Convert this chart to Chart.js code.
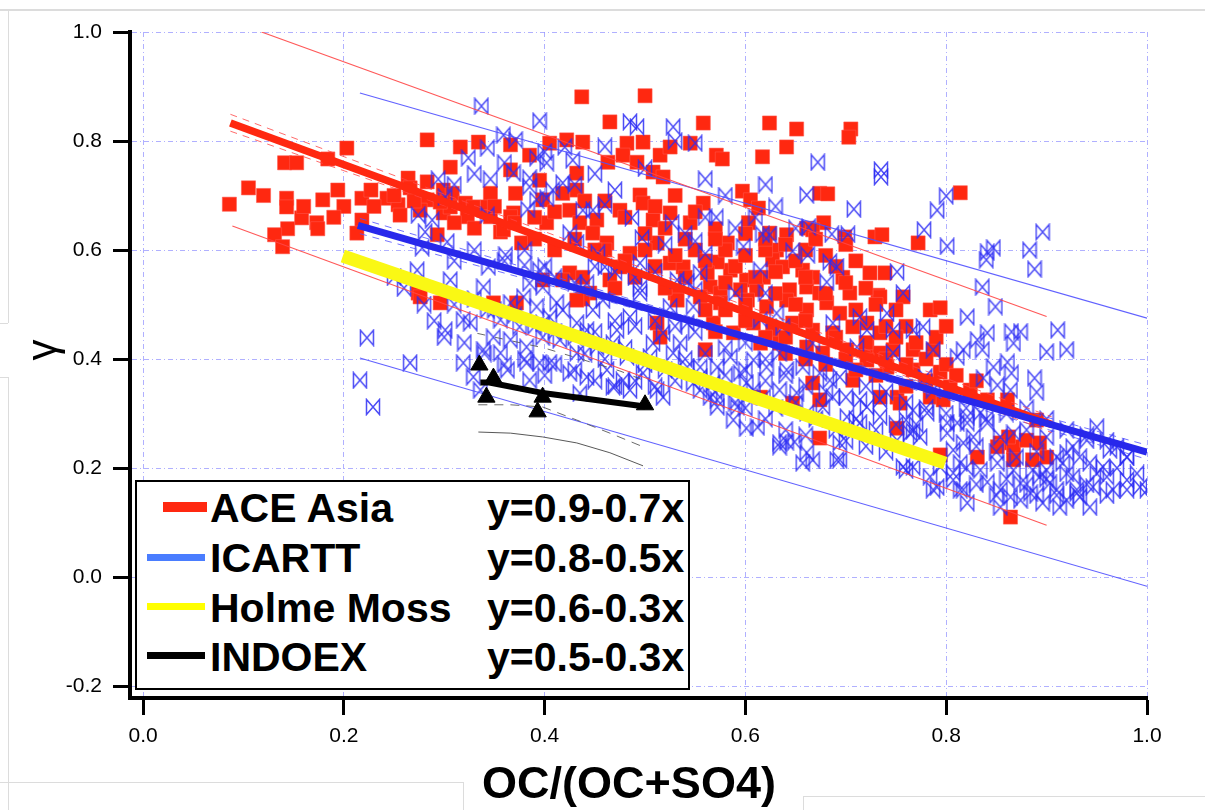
<!DOCTYPE html>
<html>
<head>
<meta charset="utf-8">
<script src="https://cdn.jsdelivr.net/npm/chart.js@4.4.1/dist/chart.umd.min.js"></script>
<style>
  body { margin: 0; background: #fff; }
  #wrap { position: relative; width: 1205px; height: 810px; overflow: hidden; font-family: "Liberation Sans", Arial, sans-serif; }
  #chart { position: absolute; left: 0; top: 0; }
  .frame { position: absolute; border-color: #dcdcdc; border-style: solid; border-width: 0; }
  .legend { position: absolute; left: 135px; top: 480px; width: 555px; height: 210px; box-sizing: border-box; border: 2px solid #000; background: #fff; }
  .lg { position: absolute; font-weight: bold; font-size: 41px; line-height: 41px; color: #000; white-space: nowrap; }
  .sw { position: absolute; }
  .ytitle { position: absolute; left: 20px; top: 328px; width: 44px; height: 44px; font-size: 42px; line-height: 44px; text-align: center; transform: rotate(-90deg); color: #000; }
  .xtitle { position: absolute; left: 329px; top: 760px; width: 600px; text-align: center; font-weight: bold; font-size: 45px; line-height: 45px; color: #000; }
</style>
</head>
<body>
<div id="wrap">
  <canvas id="chart" width="1205" height="810"></canvas>

  <!-- page artefacts around the figure -->
  <div class="frame" style="left:0;top:9px;width:1205px;height:0;border-top-width:2px;"></div>
  <div class="frame" style="left:8px;top:11px;width:0;height:312px;border-left-width:1px;"></div>
  <div class="frame" style="left:0;top:323px;width:8px;height:0;border-top-width:1px;"></div>
  <div class="frame" style="left:0;top:377px;width:8px;height:0;border-top-width:1px;"></div>
  <div class="frame" style="left:8px;top:377px;width:0;height:433px;border-left-width:1px;"></div>
  <div class="frame" style="left:0;top:782px;width:463px;height:40px;border-top-width:1px;border-right-width:1px;"></div>
  <div class="frame" style="left:803px;top:796px;width:420px;height:40px;border-top-width:1px;border-left-width:1px;"></div>

  <div class="legend"></div>
  <div class="sw" style="left:163px;top:502px;width:44px;height:10px;background:rgb(255,40,16);"></div>
  <div class="sw" style="left:147px;top:554px;width:58px;height:7px;background:rgb(74,125,255);"></div>
  <div class="sw" style="left:147px;top:603px;width:58px;height:7px;background:rgb(255,255,0);"></div>
  <div class="sw" style="left:147px;top:652px;width:58px;height:7px;background:#000;"></div>
  <div class="lg" style="left:210px;top:488px;">ACE Asia</div>
  <div class="lg" style="left:210px;top:538px;">ICARTT</div>
  <div class="lg" style="left:210px;top:588px;">Holme Moss</div>
  <div class="lg" style="left:210px;top:637px;">INDOEX</div>
  <div class="lg" style="left:487px;top:488px;">y=0.9-0.7x</div>
  <div class="lg" style="left:487px;top:538px;">y=0.8-0.5x</div>
  <div class="lg" style="left:487px;top:588px;">y=0.6-0.3x</div>
  <div class="lg" style="left:487px;top:637px;">y=0.5-0.3x</div>

  <div class="ytitle">γ</div>
  <div class="xtitle">OC/(OC+SO4)</div>
</div>

<script>
const xTickValues = [0.0, 0.2, 0.4, 0.6, 0.8, 1.0];
const yTickValues = [-0.2, 0.0, 0.2, 0.4, 0.6, 0.8, 1.0];

// ACE Asia measurements (red squares), [OC/(OC+SO4), gamma]
const aceAsiaPoints = [
  [0.086,0.684],[0.105,0.714],[0.141,0.760],[0.153,0.760],[0.143,0.695],[0.143,0.679],[0.158,0.659],[0.144,0.639],
  [0.131,0.628],[0.139,0.606],[0.173,0.650],[0.174,0.639],[0.179,0.692],[0.194,0.710],[0.184,0.767],[0.203,0.787],
  [0.218,0.655],[0.213,0.631],[0.218,0.695],[0.227,0.710],[0.243,0.695],[0.254,0.683],[0.256,0.664],[0.264,0.732],
  [0.266,0.714],[0.283,0.802],[0.283,0.725],[0.306,0.752],[0.316,0.789],[0.334,0.798],[0.299,0.710],[0.308,0.704],
  [0.283,0.692],[0.299,0.668],[0.293,0.628],[0.321,0.686],[0.329,0.679],[0.346,0.704],[0.343,0.679],[0.366,0.793],
  [0.366,0.747],[0.371,0.704],[0.369,0.668],[0.356,0.633],[0.377,0.613],[0.385,0.774],[0.395,0.728],[0.398,0.692],
  [0.402,0.650],[0.405,0.796],[0.422,0.802],[0.438,0.798],[0.437,0.881],[0.465,0.835],[0.500,0.883],[0.482,0.796],
  [0.498,0.798],[0.478,0.774],[0.463,0.761],[0.492,0.761],[0.515,0.774],[0.525,0.789],[0.508,0.743],[0.518,0.734],
  [0.432,0.741],[0.432,0.710],[0.418,0.704],[0.425,0.673],[0.435,0.650],[0.452,0.655],[0.448,0.631],[0.462,0.613],
  [0.475,0.673],[0.495,0.701],[0.498,0.686],[0.508,0.655],[0.525,0.668],[0.512,0.613],[0.485,0.594],[0.475,0.569],
  [0.465,0.545],[0.525,0.576],[0.425,0.558],[0.438,0.550],[0.418,0.545],[0.398,0.545],[0.359,0.637],[0.366,0.661],
  [0.346,0.661],[0.323,0.661],[0.306,0.679],[0.296,0.688],[0.276,0.673],[0.274,0.521],[0.445,0.521],[0.438,0.510],
  [0.530,0.521],
  [0.558,0.833],[0.624,0.833],[0.651,0.822],[0.705,0.822],[0.703,0.807],[0.641,0.789],[0.545,0.796],[0.571,0.774],
  [0.577,0.767],[0.617,0.771],[0.597,0.708],[0.605,0.692],[0.613,0.677],[0.558,0.686],[0.545,0.650],[0.603,0.650],
  [0.570,0.639],[0.582,0.613],[0.674,0.704],[0.682,0.703],[0.678,0.650],[0.661,0.640],[0.667,0.637],[0.641,0.628],
  [0.624,0.631],[0.699,0.624],[0.729,0.624],[0.736,0.628],[0.772,0.613],[0.814,0.705],[0.724,0.558],[0.739,0.558],
  [0.697,0.550],[0.704,0.521],[0.732,0.517],[0.631,0.600],[0.627,0.582],[0.637,0.569],[0.657,0.563],[0.667,0.550],
  [0.618,0.550],[0.601,0.545],[0.585,0.563],[0.572,0.578],[0.562,0.558],[0.538,0.569],[0.565,0.532],[0.575,0.521],
  [0.595,0.527],[0.611,0.527],[0.644,0.527],[0.661,0.532],[0.674,0.521],
  [0.555,0.514],[0.575,0.503],[0.602,0.508],[0.621,0.496],[0.641,0.508],[0.661,0.490],[0.681,0.503],[0.694,0.484],
  [0.734,0.514],[0.757,0.514],[0.784,0.490],[0.794,0.494],[0.568,0.466],[0.588,0.448],[0.608,0.466],[0.627,0.453],
  [0.647,0.466],[0.667,0.453],[0.687,0.448],[0.707,0.459],[0.721,0.466],[0.734,0.448],[0.615,0.429],[0.634,0.429],
  [0.661,0.422],[0.677,0.411],[0.701,0.417],[0.721,0.422],[0.734,0.411],[0.747,0.417],[0.767,0.417],[0.787,0.417],
  [0.721,0.398],[0.741,0.385],[0.767,0.380],[0.794,0.376],[0.804,0.349],[0.824,0.343],[0.841,0.325],[0.861,0.325],
  [0.890,0.288],[0.784,0.330],[0.797,0.325],[0.560,0.417],[0.667,0.356],[0.674,0.325],[0.647,0.319],[0.734,0.330],
  [0.751,0.330],[0.754,0.319],[0.707,0.361],[0.615,0.330],[0.674,0.255],[0.751,0.273],[0.794,0.224],[0.831,0.220],
  [0.854,0.246],[0.867,0.239],[0.880,0.251],[0.893,0.246],[0.867,0.215],[0.886,0.215],[0.864,0.110],[0.900,0.220],
  [0.862,0.257],[0.851,0.239],
  [0.276,0.514],[0.296,0.503],[0.432,0.508],[0.512,0.466],[0.515,0.440],[0.532,0.508],[0.349,0.503],[0.372,0.503],
  [0.46,0.60],[0.48,0.58],[0.50,0.60],[0.51,0.57],[0.53,0.59],[0.54,0.55],[0.52,0.53],[0.49,0.55],
  [0.47,0.53],[0.55,0.60],[0.56,0.58],[0.58,0.60],[0.59,0.57],[0.58,0.54],[0.60,0.59],[0.62,0.60],
  [0.63,0.56],[0.65,0.58],[0.66,0.60],[0.68,0.59],[0.69,0.57],[0.71,0.58],[0.70,0.54],[0.72,0.53],
  [0.68,0.52],[0.65,0.50],[0.63,0.52],[0.60,0.50],[0.58,0.49],[0.56,0.49],[0.57,0.45],[0.60,0.47],
  [0.62,0.44],[0.64,0.44],[0.66,0.47],[0.69,0.44],[0.71,0.49],[0.73,0.50],[0.75,0.49],[0.76,0.46],
  [0.74,0.46],[0.70,0.40],[0.68,0.39],[0.66,0.40],[0.64,0.41],[0.72,0.43],[0.75,0.44],[0.77,0.43],
  [0.79,0.44],[0.80,0.46],[0.78,0.40],[0.76,0.39],[0.80,0.39],[0.81,0.37],[0.83,0.36],[0.78,0.36],
  [0.76,0.35],[0.73,0.37],[0.71,0.38],[0.74,0.40],[0.62,0.62],[0.60,0.63],[0.64,0.61],[0.67,0.62],
  [0.70,0.61],[0.66,0.55],[0.61,0.55],[0.57,0.62],[0.54,0.62],[0.52,0.64],[0.50,0.63],[0.55,0.67],
  [0.53,0.70],[0.51,0.68],[0.48,0.66],[0.46,0.69],[0.44,0.69],[0.45,0.60],[0.43,0.62],[0.41,0.60],
  [0.39,0.62],[0.37,0.65],[0.39,0.66],[0.41,0.67],[0.35,0.68],[0.33,0.64],[0.31,0.65],[0.27,0.69],
  [0.25,0.70],[0.23,0.68],[0.20,0.68],[0.19,0.66],[0.16,0.68],[0.12,0.70]
];

// ICARTT measurements (blue bowties)
const icarttPoints = [
  [0.337,0.864],[0.395,0.837],[0.485,0.835],[0.492,0.826],[0.528,0.826],[0.359,0.811],[0.371,0.802],[0.343,0.787],
  [0.324,0.769],[0.392,0.769],[0.402,0.760],[0.428,0.765],[0.420,0.789],[0.369,0.741],[0.346,0.730],[0.294,0.730],
  [0.385,0.732],[0.385,0.716],[0.418,0.723],[0.408,0.710],[0.392,0.692],[0.402,0.695],[0.301,0.697],[0.383,0.675],
  [0.438,0.673],[0.448,0.673],[0.460,0.683],[0.343,0.664],[0.274,0.664],[0.288,0.655],[0.281,0.633],[0.303,0.615],
  [0.278,0.604],[0.361,0.591],[0.344,0.569],[0.380,0.572],[0.395,0.563],[0.425,0.631],[0.432,0.613],[0.453,0.594],
  [0.460,0.569],[0.495,0.576],[0.487,0.659],[0.497,0.622],[0.527,0.650],[0.273,0.563],[0.306,0.545],[0.339,0.532],
  [0.385,0.539],[0.398,0.532],[0.495,0.530],[0.532,0.545],[0.442,0.539],
  [0.672,0.761],[0.735,0.747],[0.735,0.734],[0.661,0.701],[0.800,0.699],[0.791,0.673],[0.708,0.675],[0.778,0.637],
  [0.801,0.607],[0.841,0.596],[0.847,0.604],[0.840,0.582],[0.896,0.633],[0.888,0.565],[0.836,0.532],[0.751,0.560],
  [0.681,0.541],[0.691,0.569],[0.684,0.578],[0.662,0.591],[0.647,0.598],[0.598,0.606],[0.617,0.629],[0.624,0.628],
  [0.663,0.642],[0.686,0.629],[0.702,0.629],[0.550,0.616],[0.571,0.660],[0.550,0.796],[0.560,0.593],[0.615,0.563],
  [0.555,0.558],[0.542,0.541],[0.550,0.527],[0.590,0.521],[0.620,0.521],[0.757,0.521],[0.883,0.600],
  [0.849,0.496],[0.821,0.477],[0.911,0.453],[0.865,0.450],[0.874,0.450],[0.841,0.448],[0.831,0.435],[0.867,0.429],
  [0.920,0.417],[0.900,0.413],[0.817,0.417],[0.836,0.417],[0.811,0.404],[0.861,0.394],[0.847,0.385],[0.888,0.365],
  [0.865,0.374],[0.837,0.365],[0.851,0.352],[0.890,0.339],[0.864,0.343],[0.787,0.417],[0.777,0.459],[0.767,0.453],
  [0.741,0.484],[0.721,0.453],[0.714,0.477],[0.747,0.411],[0.779,0.367],[0.787,0.343],[0.781,0.301],[0.767,0.306],
  [0.760,0.288],[0.774,0.257],[0.764,0.264],[0.751,0.251],[0.734,0.294],[0.714,0.283],[0.701,0.294],[0.721,0.312],
  [0.734,0.325],[0.694,0.246],[0.691,0.215],[0.657,0.209],[0.661,0.228],[0.641,0.248],[0.634,0.246],[0.649,0.248],
  [0.612,0.275],[0.601,0.273],[0.588,0.288],[0.618,0.330],[0.634,0.343],[0.651,0.338],[0.661,0.301],[0.677,0.312],
  [0.687,0.330],[0.714,0.325],[0.684,0.361],[0.674,0.374],[0.694,0.367],[0.657,0.385],[0.641,0.380],[0.621,0.385],
  [0.608,0.398],[0.595,0.374],[0.585,0.404],[0.572,0.385],[0.555,0.385],[0.572,0.325],[0.592,0.312],[0.555,0.343],
  [0.568,0.356],[0.601,0.356],[0.608,0.343],[0.542,0.466],[0.548,0.496],[0.615,0.472],[0.631,0.484],[0.637,0.459],
  [0.687,0.466],[0.667,0.429],[0.634,0.411],[0.711,0.422],[0.747,0.453],[0.767,0.268],[0.801,0.264],[0.811,0.283],
  [0.821,0.294],[0.834,0.301],[0.841,0.283],[0.807,0.233],[0.794,0.202],[0.807,0.191],[0.814,0.209],[0.791,0.165],
  [0.814,0.160],[0.841,0.174],[0.854,0.160],[0.864,0.147],[0.854,0.128],[0.874,0.172],[0.884,0.154],[0.893,0.184],
  [0.896,0.136],[0.910,0.160],[0.913,0.128],[0.926,0.184],[0.933,0.147],[0.946,0.165],[0.960,0.184],[0.966,0.160],
  [0.980,0.178],[0.993,0.165],[1.000,0.160],[0.943,0.209],[0.956,0.202],[0.933,0.220],[0.920,0.228],[0.950,0.275],
  [0.963,0.233],[0.970,0.239],[0.980,0.220],[0.940,0.251],[0.926,0.239],[0.916,0.209],[0.900,0.196],[0.886,0.196],
  [0.867,0.196],[0.851,0.209],[0.834,0.196],[0.874,0.141],[0.920,0.141],[0.943,0.128],[0.930,0.154],[0.821,0.136],
  [0.903,0.172],[0.867,0.264],[0.880,0.270],[0.900,0.257],[0.854,0.257],[0.827,0.257],[0.817,0.246],[0.821,0.283],
  [0.801,0.283],[0.634,0.239],[0.694,0.215],[0.667,0.215],[0.757,0.202],[0.767,0.202],[0.787,0.160],[0.784,0.184],
  [0.760,0.196],[0.807,0.178],[0.817,0.160],[0.565,0.330],[0.572,0.312],[0.555,0.367],[0.548,0.356],[0.542,0.385],
  [0.535,0.429],
  [0.223,0.439],[0.216,0.361],[0.229,0.312],[0.266,0.393],[0.301,0.453],[0.319,0.472],[0.326,0.466],[0.343,0.490],
  [0.356,0.472],[0.366,0.503],[0.379,0.514],[0.392,0.496],[0.405,0.477],[0.418,0.490],[0.432,0.466],[0.448,0.490],
  [0.458,0.508],[0.472,0.453],[0.485,0.477],[0.495,0.521],[0.525,0.496],[0.518,0.448],[0.349,0.440],[0.366,0.435],
  [0.382,0.422],[0.356,0.411],[0.339,0.417],[0.363,0.380],[0.382,0.393],[0.395,0.393],[0.319,0.393],[0.329,0.367],
  [0.336,0.343],[0.425,0.374],[0.442,0.367],[0.462,0.380],[0.468,0.349],[0.485,0.343],[0.512,0.343],[0.518,0.330],
  [0.435,0.337],[0.415,0.435],[0.432,0.411],[0.452,0.422],[0.468,0.429],[0.482,0.404],[0.505,0.404],[0.498,0.374],
  [0.478,0.361],[0.528,0.411],[0.398,0.440],[0.375,0.459],[0.398,0.466],[0.412,0.503],[0.442,0.453],[0.508,0.429],
  [0.385,0.361],[0.405,0.393],
  [0.31,0.50],[0.33,0.51],[0.35,0.49],[0.37,0.48],[0.39,0.46],[0.41,0.45],[0.43,0.44],[0.45,0.45],
  [0.47,0.47],[0.49,0.46],[0.51,0.47],[0.53,0.46],[0.55,0.45],[0.44,0.41],[0.46,0.40],[0.48,0.42],
  [0.50,0.39],[0.52,0.38],[0.54,0.40],[0.56,0.41],[0.58,0.42],[0.60,0.43],[0.62,0.40],[0.64,0.37],
  [0.66,0.35],[0.68,0.34],[0.70,0.33],[0.72,0.35],[0.74,0.34],[0.76,0.32],[0.78,0.31],[0.80,0.30],
  [0.82,0.31],[0.84,0.29],[0.86,0.30],[0.88,0.31],[0.90,0.29],[0.92,0.27],[0.94,0.26],[0.96,0.25],
  [0.98,0.22],[0.91,0.22],[0.89,0.23],[0.87,0.22],[0.85,0.23],[0.83,0.24],[0.82,0.20],[0.86,0.18],
  [0.88,0.17],[0.90,0.18],[0.92,0.19],[0.94,0.17],[0.95,0.19],[0.97,0.20],[0.99,0.19],[0.96,0.15],
  [0.98,0.16],[0.93,0.16],[0.91,0.15],[0.89,0.15],[0.85,0.15],[0.83,0.17],[0.62,0.36],[0.60,0.38],
  [0.58,0.37],[0.57,0.34],[0.59,0.32],[0.63,0.31],[0.65,0.32],[0.67,0.29],[0.69,0.27],[0.71,0.29],
  [0.73,0.27],[0.75,0.28],[0.77,0.28],[0.70,0.25],[0.72,0.24],[0.74,0.23],[0.62,0.29],[0.64,0.27],
  [0.66,0.26],[0.60,0.31],[0.53,0.36],[0.51,0.35],[0.49,0.36],[0.47,0.35],[0.45,0.36],[0.43,0.38],
  [0.41,0.39],[0.40,0.37],[0.38,0.40],[0.36,0.39],[0.34,0.41],[0.32,0.43],[0.30,0.44],[0.29,0.47],
  [0.28,0.50],[0.26,0.53],[0.25,0.55],[0.43,0.54],[0.41,0.55],[0.47,0.56],[0.45,0.57],[0.49,0.55],
  [0.51,0.56],[0.36,0.58],[0.38,0.60],[0.40,0.57],[0.33,0.60],[0.31,0.58],[0.52,0.61],[0.54,0.63],
  [0.56,0.66],[0.59,0.64],[0.61,0.66],[0.65,0.64],[0.63,0.68],[0.58,0.70],[0.62,0.72],[0.56,0.73],
  [0.47,0.71],[0.45,0.74],[0.43,0.72],[0.50,0.75],[0.40,0.78],[0.36,0.76],[0.33,0.74],[0.31,0.72],
  [0.46,0.79],[0.53,0.80]
];

// INDOEX measurements (black triangles)
const indoexPoints = [[0.335,0.389],[0.349,0.365],[0.342,0.330],[0.398,0.330],[0.393,0.303],[0.500,0.316]];

// regression lines and their bands
const aceFit      = [[0.087,0.833],[0.905,0.280]];
const aceUpper    = [[0.118,1.000],[0.900,0.478]];
const aceLower    = [[0.089,0.644],[0.900,0.095]];
const aceConfHi   = [[0.087,0.849],[0.500,0.565],[0.905,0.294]];
const aceConfLo   = [[0.087,0.818],[0.500,0.553],[0.905,0.265]];
const icarttFit   = [[0.214,0.645],[1.000,0.229]];
const icarttUpper = [[0.216,0.888],[1.000,0.475]];
const icarttLower = [[0.216,0.402],[1.000,-0.017]];
const icarttConfHi = [[0.216,0.658],[0.600,0.447],[1.000,0.242]];
const icarttConfLo = [[0.216,0.630],[0.600,0.437],[1.000,0.216]];
const holmeMossFit = [[0.199,0.589],[0.799,0.209]];
const indoexLine   = [[0.336,0.357],[0.345,0.357],[0.400,0.337],[0.500,0.313]];
const indoexBandHi  = [[0.333,0.447],[0.400,0.420],[0.475,0.378],[0.500,0.360]];
const indoexBandMid = [[0.334,0.316],[0.366,0.316],[0.398,0.312],[0.432,0.288],[0.465,0.264],[0.498,0.239]];
const indoexBandLo  = [[0.334,0.266],[0.366,0.264],[0.398,0.257],[0.432,0.246],[0.465,0.228],[0.498,0.204]];

const toXY = (arr) => arr.map(([x, y]) => ({ x: x, y: y }));

const makeBowtie = () => {
    const c = document.createElement('canvas');
    c.width = 16;
    c.height = 18;
    const g = c.getContext('2d');
    g.strokeStyle = 'rgba(45,45,245,0.85)';
    g.lineWidth = 1.5;
    g.beginPath();
    g.moveTo(1.5, 1.5);
    g.lineTo(14.5, 16.5);
    g.lineTo(14.5, 1.5);
    g.lineTo(1.5, 16.5);
    g.closePath();
    g.stroke();
    return c;
};

const lineSet = (data, color, width, order, dash) => ({
    data: toXY(data),
    showLine: true,
    pointRadius: 0,
    borderColor: color,
    borderWidth: width,
    borderDash: dash || [],
    borderCapStyle: 'butt',
    fill: false,
    order: order
});

const ctx = document.getElementById('chart').getContext('2d');

const chart = new Chart(ctx, {
    type: 'scatter',
    data: {
        datasets: [
            {
                label: 'ACE Asia',
                data: toXY(aceAsiaPoints),
                pointStyle: 'rect',
                pointRadius: 10,
                pointBackgroundColor: 'rgb(255,40,16)',
                pointBorderColor: 'rgba(255,90,80,0.9)',
                pointBorderWidth: 0.6,
                order: 20
            },
            {
                label: 'ICARTT',
                data: toXY(icarttPoints),
                pointStyle: makeBowtie(),
                pointRadius: 7,
                order: 19
            },
            lineSet(aceUpper, 'rgba(255,70,70,0.9)', 1.1, 18),
            lineSet(aceLower, 'rgba(255,70,70,0.9)', 1.1, 18),
            lineSet(icarttUpper, 'rgba(80,80,255,0.9)', 1.1, 18),
            lineSet(icarttLower, 'rgba(80,80,255,0.9)', 1.1, 18),
            lineSet(aceConfHi, 'rgba(255,70,70,0.8)', 1, 17, [7, 6]),
            lineSet(aceConfLo, 'rgba(255,70,70,0.8)', 1, 17, [7, 6]),
            lineSet(icarttConfHi, 'rgba(80,80,255,0.8)', 1, 17, [7, 6]),
            lineSet(icarttConfLo, 'rgba(80,80,255,0.8)', 1, 17, [7, 6]),
            lineSet(indoexBandHi, 'rgba(90,90,90,0.9)', 1, 16, [8, 10]),
            lineSet(indoexBandMid, 'rgba(90,90,90,0.9)', 1, 16, [9, 7]),
            lineSet(indoexBandLo, 'rgba(70,70,70,0.9)', 1, 16),
            lineSet(aceFit, 'rgb(255,40,16)', 7.5, 5),
            lineSet(icarttFit, 'rgb(40,40,235)', 7, 4),
            lineSet(holmeMossFit, 'rgb(250,248,20)', 13, 3),
            lineSet(indoexLine, '#000', 6, 2),
            {
                label: 'INDOEX',
                data: toXY(indoexPoints),
                pointStyle: 'triangle',
                pointRadius: 10,
                pointBackgroundColor: '#000',
                pointBorderColor: '#000',
                pointBorderWidth: 1,
                order: 1
            }
        ]
    },
    options: {
        responsive: false,
        animation: false,
        events: [],
        layout: { padding: { top: 32, right: 58, left: 0, bottom: 0 } },
        plugins: {
            legend: { display: false },
            tooltip: { enabled: false }
        },
        scales: {
            x: {
                type: 'linear',
                min: -0.013,
                max: 1.0,
                afterBuildTicks: (scale) => { scale.ticks = xTickValues.map(v => ({ value: v })); },
                afterFit: (scale) => { scale.height = 112; },
                grid: { color: 'rgba(150,150,255,0.75)', lineWidth: 1, tickLength: 17, tickWidth: 3, tickColor: '#000' },
                border: { display: true, color: '#000', width: 4, dash: [5, 3, 1, 3] },
                ticks: {
                    padding: 9,
                    color: '#000',
                    font: { family: 'Liberation Sans', size: 21 },
                    callback: (v) => v.toFixed(1)
                }
            },
            y: {
                type: 'linear',
                min: -0.222,
                max: 1.0,
                afterBuildTicks: (scale) => { scale.ticks = yTickValues.map(v => ({ value: v })); },
                afterFit: (scale) => { scale.width = 130; },
                grid: { color: 'rgba(150,150,255,0.75)', lineWidth: 1, tickLength: 17, tickWidth: 3, tickColor: '#000' },
                border: { display: true, color: '#000', width: 4, dash: [5, 3, 1, 3] },
                ticks: {
                    padding: 11,
                    color: '#000',
                    font: { family: 'Liberation Sans', size: 21 },
                    callback: (v) => v.toFixed(1)
                }
            }
        }
    }
});
</script>
</body>
</html>
